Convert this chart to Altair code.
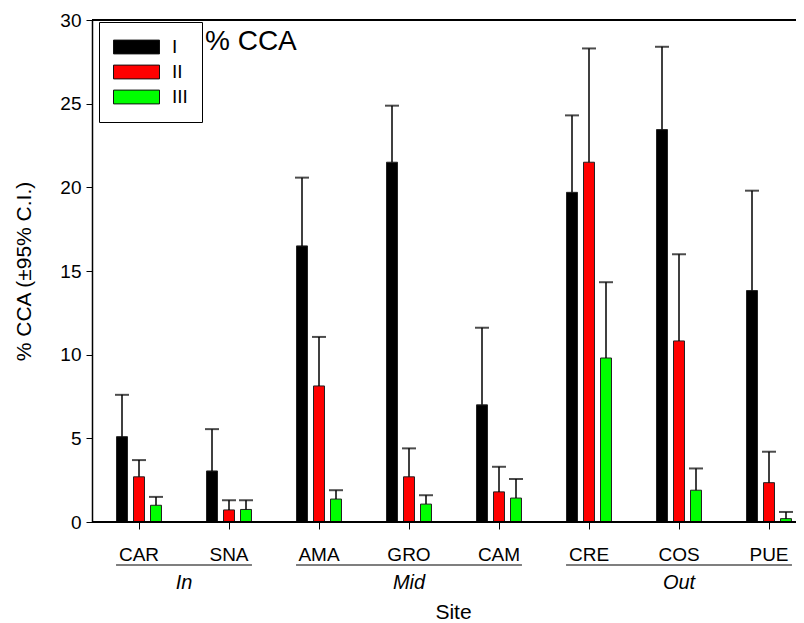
import altair as alt
import pandas as pd

sites = ["CAR", "SNA", "AMA", "GRO", "CAM", "CRE", "COS", "PUE"]
series = ["I", "II", "III"]
colors = ["#000000", "#FF0000", "#00FF00"]

mean_I = [5.1, 3.05, 16.5, 21.5, 7.0, 19.7, 23.45, 13.83]
upper_I = [7.6, 5.55, 20.58, 24.88, 11.61, 24.3, 28.4, 19.8]
mean_II = [2.7, 0.72, 8.13, 2.7, 1.8, 21.5, 10.82, 2.35]
upper_II = [3.7, 1.3, 11.06, 4.4, 3.3, 28.3, 16.0, 4.2]
mean_III = [1.0, 0.75, 1.37, 1.07, 1.43, 9.8, 1.9, 0.2]
upper_III = [1.5, 1.3, 1.9, 1.6, 2.57, 14.33, 3.2, 0.6]

groups = ["In", "Mid", "Out"]
group_first = ["CAR", "AMA", "CRE"]
group_last = ["SNA", "CAM", "PUE"]

rows = []
for s_name, m, u in [("I", mean_I, upper_I), ("II", mean_II, upper_II), ("III", mean_III, upper_III)]:
    for site, mv, uv in zip(sites, m, u):
        rows.append({"site": site, "series": s_name, "mean": mv, "upper": uv})
df = pd.DataFrame(rows)

gdf = pd.DataFrame({
    "group": groups,
    "first": group_first,
    "last": group_last,
})
gdf["fi"] = [sites.index(f) for f in group_first]
gdf["li"] = [sites.index(l) for l in group_last]
gdf["start"] = gdf["fi"] + 0.245
gdf["end"] = gdf["li"] + 0.755
gdf["mid"] = (gdf["fi"] + gdf["li"]) / 2 + 0.5

FONT = "Liberation Sans"
W, H = 704, 502
RIGHT = 0

xscale = alt.Scale(domain=sites, range=[2, 722], paddingInner=0, paddingOuter=0)
offscale = alt.Scale(domain=series, range=[19.5, 70.5], paddingInner=0.353, paddingOuter=0.1765)
yscale = alt.Scale(domain=[0, 30], nice=False)

x_enc = alt.X("site:N", scale=xscale, sort=sites,
              axis=alt.Axis(title="Site", labelAngle=0, labelFontSize=19, titleFontSize=21,
                            titleFontWeight="normal", tickSize=7, labelPadding=16,
                            titlePadding=37, domain=False, titleX=361))
y_enc = alt.Y("mean:Q", scale=yscale,
              axis=alt.Axis(title="% CCA (±95% C.I.)", values=[0, 5, 10, 15, 20, 25, 30],
                            labelFontSize=19, titleFontSize=21, titleFontWeight="normal",
                            tickSize=6, labelPadding=5, titlePadding=25, grid=False,
                            domainWidth=1.5))
xo = alt.XOffset("series:N", scale=offscale, sort=series)

base = alt.Chart(df)

bars = base.mark_bar(stroke="#222222", strokeWidth=1).encode(
    x=x_enc,
    xOffset=xo,
    y=y_enc,
    color=alt.Color("series:N", sort=series,
                    scale=alt.Scale(domain=series, range=colors),
                    legend=alt.Legend(title=None, orient="none", legendX=7, legendY=2,
                                      symbolType="M-1,-0.3H1V0.3H-1Z", symbolSize=2116,
                                      symbolStrokeColor="#111111", symbolStrokeWidth=1,
                                      clipHeight=22, rowPadding=3, labelOffset=12,
                                      labelFontSize=19, padding=14, strokeColor="black",
                                      fillColor="white", symbolOpacity=1)),
)

err = base.mark_rule(color="black", strokeWidth=1.5).encode(
    x=alt.X("site:N", scale=xscale, sort=sites),
    xOffset=xo,
    y=alt.Y("mean:Q", scale=yscale),
    y2="upper:Q",
)

caps = base.mark_tick(color="black", thickness=2, size=14, orient="horizontal").encode(
    x=alt.X("site:N", scale=xscale, sort=sites),
    xOffset=xo,
    y=alt.Y("upper:Q", scale=yscale),
)

frame = alt.Chart(pd.DataFrame({"v": [0, 30]})).mark_rule(color="black", strokeWidth=2).encode(
    y=alt.Y("v:Q", scale=yscale),
    x=alt.value(0),
    x2=alt.value(W + RIGHT),
)

title_txt = alt.Chart(pd.DataFrame({"t": ["% CCA"]})).mark_text(
    align="left", baseline="middle", fontSize=28, font=FONT
).encode(
    text="t:N",
    x=alt.value(113),
    y=alt.value(22),
)

pos_scale = alt.Scale(domain=[0, 8], range=[2, 722])
glines = alt.Chart(gdf).mark_rule(color="black", strokeWidth=1.2).encode(
    x=alt.X("start:Q", scale=pos_scale, axis=None),
    x2="end:Q",
    y=alt.value(545),
)
gtext = alt.Chart(gdf).mark_text(fontSize=20, fontStyle="italic", font=FONT, baseline="middle").encode(
    x=alt.X("mid:Q", scale=pos_scale, axis=None),
    y=alt.value(563),
    text="group:N",
)

main = alt.layer(bars, err, caps, frame, title_txt)
chart = alt.layer(main, alt.layer(glines, gtext)).resolve_scale(x="independent").properties(
    width=W, height=H,
    autosize=alt.AutoSizeParams(type="none"),
    padding={"left": 84, "top": 12, "right": RIGHT, "bottom": 101},
).configure(font=FONT).configure_view(stroke=None).configure_axis(
    domainColor="black", tickColor="black", labelColor="black", titleColor="black",
    labelFont=FONT, titleFont=FONT,
).configure_legend(labelFont=FONT, labelColor="black")

chart.save("out.html", embed_options={"renderer": "svg", "actions": False})
